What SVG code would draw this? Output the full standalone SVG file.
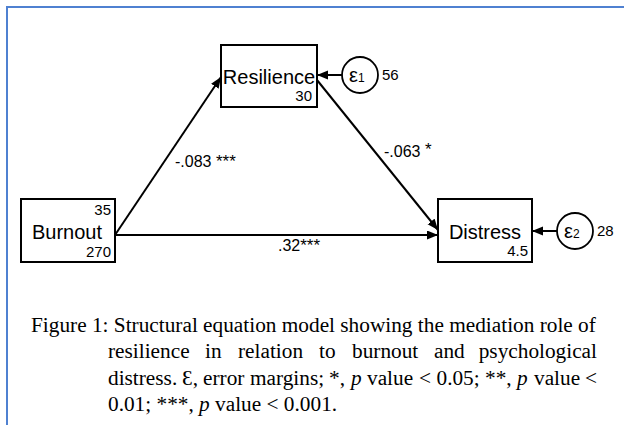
<svg xmlns="http://www.w3.org/2000/svg" width="624" height="425" viewBox="0 0 624 425">
<style>
.box{fill:#fff;stroke:#000;stroke-width:2}
.err{fill:#fff;stroke:#000;stroke-width:1.8}
.lbl{font-family:"Liberation Sans",Arial,sans-serif;fill:#000}
.big{font-size:20px}
.sm{font-size:15px}
.path{font-size:16px}
.edge{stroke:#000;stroke-width:2;fill:none;marker-end:url(#ah)}
.cap{font-family:"Liberation Serif","Times New Roman",serif;font-size:21.3px;fill:#000}
</style>
<defs>
<marker id="ah" markerUnits="userSpaceOnUse" markerWidth="12" markerHeight="10" refX="11" refY="4.5" orient="auto">
<path d="M0,0 L11,4.5 L0,9 z" fill="#000"/>
</marker>
</defs>
<rect width="624" height="425" fill="#fff"/>
<path d="M7,425 V7 H624" fill="none" stroke="#4f81d1" stroke-width="2"/>
<g id="connectors">
<line class="edge" x1="115" y1="235" x2="221" y2="77"/>
<line class="edge" x1="317" y1="80" x2="438" y2="230"/>
<line class="edge" x1="115" y1="235" x2="438" y2="235"/>
<line class="edge" x1="342" y1="75" x2="317" y2="75"/>
<line class="edge" x1="557" y1="231" x2="532" y2="231"/>
<text class="lbl path" x="175" y="167">-.083 <tspan font-size="17">***</tspan></text>
<text class="lbl path" x="384" y="157">-.063 <tspan font-size="17" dy="-2">*</tspan></text>
<text class="lbl path" x="299" y="251" text-anchor="middle">.32<tspan font-size="17">***</tspan></text>
</g>
<g id="resilience">
<rect class="box" x="221" y="45" width="96" height="62"/>
<text class="lbl big" x="269" y="84" text-anchor="middle">Resilience</text>
<text class="lbl sm" x="312" y="101" text-anchor="end">30</text>
</g>
<g id="e1">
<circle class="err" cx="360" cy="75" r="18"/>
<text class="lbl" x="349" y="82" font-size="20">ε<tspan font-size="12">1</tspan></text>
<text class="lbl sm" x="382" y="80">56</text>
</g>
<g id="burnout">
<rect class="box" x="21" y="199" width="94" height="63"/>
<text class="lbl sm" x="111" y="215" text-anchor="end">35</text>
<text class="lbl big" x="67" y="239" text-anchor="middle">Burnout</text>
<text class="lbl sm" x="111" y="257" text-anchor="end">270</text>
</g>
<g id="distress">
<rect class="box" x="438" y="199" width="94" height="63"/>
<text class="lbl big" x="485" y="239" text-anchor="middle">Distress</text>
<text class="lbl sm" x="528" y="256" text-anchor="end">4.5</text>
</g>
<g id="e2">
<circle class="err" cx="575" cy="231" r="18"/>
<text class="lbl" x="564" y="238" font-size="20">ε<tspan font-size="12">2</tspan></text>
<text class="lbl sm" x="597" y="236">28</text>
</g>
<g id="caption">
<text class="cap" x="31" y="332">Figure 1: Structural equation model showing the mediation role of</text>
<text class="cap" y="358"><tspan x="108">resilience</tspan><tspan x="205">in</tspan><tspan x="238">relation</tspan><tspan x="319">to</tspan><tspan x="352">burnout</tspan><tspan x="434">and</tspan><tspan x="597" text-anchor="end">psychological</tspan></text>
<text class="cap" y="385"><tspan x="108">distress.</tspan><tspan x="182">Ɛ,</tspan><tspan x="203">error</tspan><tspan x="250">margins;</tspan><tspan x="329">*,</tspan><tspan x="351" font-style="italic">p</tspan><tspan x="367">value</tspan><tspan x="419">&lt;</tspan><tspan x="436.5">0.05;</tspan><tspan x="485">**,</tspan><tspan x="517" font-style="italic">p</tspan><tspan x="534">value</tspan><tspan x="597" text-anchor="end">&lt;</tspan></text>
<text class="cap" x="108" y="411">0.01; ***, <tspan font-style="italic">p</tspan> value &lt; 0.001.</text>
</g>
</svg>
